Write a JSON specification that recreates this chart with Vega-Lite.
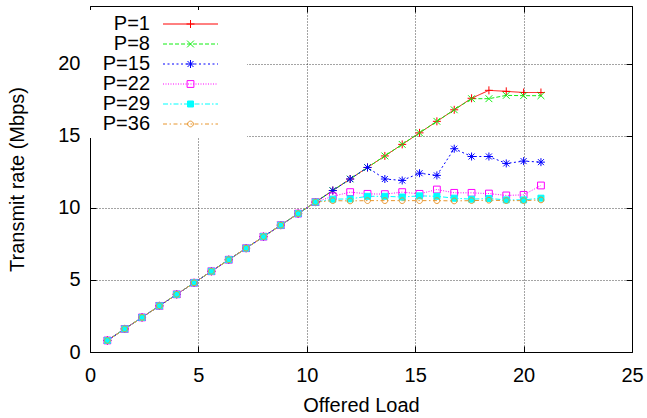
{
  "$schema": "https://vega.github.io/schema/vega-lite/v6.json",
  "width": 542,
  "height": 346,
  "autosize": {"type": "none"},
  "padding": {"left": 90, "top": 6, "right": 15, "bottom": 66},
  "background": "white",
  "config": {
    "font": "Liberation Sans",
    "view": {"stroke": null},
    "axis": {
      "labelFontSize": 20, "labelColor": "#000", "titleFontSize": 20, "titleColor": "#000",
      "titleFontWeight": "normal", "domainColor": "#000", "domainWidth": 1, "tickColor": "#000",
      "tickWidth": 1, "labelFlush": false, "labelOverlap": false, "labelBound": false,
      "gridColor": "#000", "gridDash": [1, 2], "gridWidth": 0.8, "gridOpacity": 0.9
    },
    "legend": {"labelFont": "Liberation Sans", "labelFontSize": 20, "labelColor": "#000"}
  },
  "data": {"values": [
    {"P":"P=1","load":0.8,"rate":0.8},{"P":"P=1","load":1.6,"rate":1.6},{"P":"P=1","load":2.4,"rate":2.4},{"P":"P=1","load":3.2,"rate":3.2},{"P":"P=1","load":4.0,"rate":4.0},{"P":"P=1","load":4.8,"rate":4.8},{"P":"P=1","load":5.6,"rate":5.6},{"P":"P=1","load":6.4,"rate":6.4},{"P":"P=1","load":7.2,"rate":7.2},{"P":"P=1","load":8.0,"rate":8.0},{"P":"P=1","load":8.8,"rate":8.8},{"P":"P=1","load":9.6,"rate":9.6},{"P":"P=1","load":10.4,"rate":10.4},{"P":"P=1","load":11.2,"rate":11.2},{"P":"P=1","load":12.0,"rate":12.0},{"P":"P=1","load":12.8,"rate":12.8},{"P":"P=1","load":13.6,"rate":13.6},{"P":"P=1","load":14.4,"rate":14.4},{"P":"P=1","load":15.2,"rate":15.2},{"P":"P=1","load":16.0,"rate":16.0},{"P":"P=1","load":16.8,"rate":16.8},{"P":"P=1","load":17.6,"rate":17.6},{"P":"P=1","load":18.4,"rate":18.15},{"P":"P=1","load":19.2,"rate":18.08},{"P":"P=1","load":20.0,"rate":18.0},{"P":"P=1","load":20.8,"rate":18.0},
    {"P":"P=8","load":0.8,"rate":0.8},{"P":"P=8","load":1.6,"rate":1.6},{"P":"P=8","load":2.4,"rate":2.4},{"P":"P=8","load":3.2,"rate":3.2},{"P":"P=8","load":4.0,"rate":4.0},{"P":"P=8","load":4.8,"rate":4.8},{"P":"P=8","load":5.6,"rate":5.6},{"P":"P=8","load":6.4,"rate":6.4},{"P":"P=8","load":7.2,"rate":7.2},{"P":"P=8","load":8.0,"rate":8.0},{"P":"P=8","load":8.8,"rate":8.8},{"P":"P=8","load":9.6,"rate":9.6},{"P":"P=8","load":10.4,"rate":10.4},{"P":"P=8","load":11.2,"rate":11.2},{"P":"P=8","load":12.0,"rate":12.0},{"P":"P=8","load":12.8,"rate":12.8},{"P":"P=8","load":13.6,"rate":13.6},{"P":"P=8","load":14.4,"rate":14.4},{"P":"P=8","load":15.2,"rate":15.2},{"P":"P=8","load":16.0,"rate":16.0},{"P":"P=8","load":16.8,"rate":16.8},{"P":"P=8","load":17.6,"rate":17.57},{"P":"P=8","load":18.4,"rate":17.57},{"P":"P=8","load":19.2,"rate":17.8},{"P":"P=8","load":20.0,"rate":17.78},{"P":"P=8","load":20.8,"rate":17.78},
    {"P":"P=15","load":0.8,"rate":0.8},{"P":"P=15","load":1.6,"rate":1.6},{"P":"P=15","load":2.4,"rate":2.4},{"P":"P=15","load":3.2,"rate":3.2},{"P":"P=15","load":4.0,"rate":4.0},{"P":"P=15","load":4.8,"rate":4.8},{"P":"P=15","load":5.6,"rate":5.6},{"P":"P=15","load":6.4,"rate":6.4},{"P":"P=15","load":7.2,"rate":7.2},{"P":"P=15","load":8.0,"rate":8.0},{"P":"P=15","load":8.8,"rate":8.8},{"P":"P=15","load":9.6,"rate":9.6},{"P":"P=15","load":10.4,"rate":10.4},{"P":"P=15","load":11.2,"rate":11.2},{"P":"P=15","load":12.0,"rate":12.0},{"P":"P=15","load":12.8,"rate":12.8},{"P":"P=15","load":13.6,"rate":12.0},{"P":"P=15","load":14.4,"rate":11.9},{"P":"P=15","load":15.2,"rate":12.4},{"P":"P=15","load":16.0,"rate":12.25},{"P":"P=15","load":16.8,"rate":14.1},{"P":"P=15","load":17.6,"rate":13.56},{"P":"P=15","load":18.4,"rate":13.56},{"P":"P=15","load":19.2,"rate":13.08},{"P":"P=15","load":20.0,"rate":13.24},{"P":"P=15","load":20.8,"rate":13.17},
    {"P":"P=22","load":0.8,"rate":0.8},{"P":"P=22","load":1.6,"rate":1.6},{"P":"P=22","load":2.4,"rate":2.4},{"P":"P=22","load":3.2,"rate":3.2},{"P":"P=22","load":4.0,"rate":4.0},{"P":"P=22","load":4.8,"rate":4.8},{"P":"P=22","load":5.6,"rate":5.6},{"P":"P=22","load":6.4,"rate":6.4},{"P":"P=22","load":7.2,"rate":7.2},{"P":"P=22","load":8.0,"rate":8.0},{"P":"P=22","load":8.8,"rate":8.8},{"P":"P=22","load":9.6,"rate":9.6},{"P":"P=22","load":10.4,"rate":10.4},{"P":"P=22","load":11.2,"rate":10.8},{"P":"P=22","load":12.0,"rate":11.09},{"P":"P=22","load":12.8,"rate":10.97},{"P":"P=22","load":13.6,"rate":10.95},{"P":"P=22","load":14.4,"rate":11.09},{"P":"P=22","load":15.2,"rate":10.97},{"P":"P=22","load":16.0,"rate":11.27},{"P":"P=22","load":16.8,"rate":11.04},{"P":"P=22","load":17.6,"rate":11.04},{"P":"P=22","load":18.4,"rate":10.99},{"P":"P=22","load":19.2,"rate":10.86},{"P":"P=22","load":20.0,"rate":10.9},{"P":"P=22","load":20.8,"rate":11.55},
    {"P":"P=29","load":0.8,"rate":0.8},{"P":"P=29","load":1.6,"rate":1.6},{"P":"P=29","load":2.4,"rate":2.4},{"P":"P=29","load":3.2,"rate":3.2},{"P":"P=29","load":4.0,"rate":4.0},{"P":"P=29","load":4.8,"rate":4.8},{"P":"P=29","load":5.6,"rate":5.6},{"P":"P=29","load":6.4,"rate":6.4},{"P":"P=29","load":7.2,"rate":7.2},{"P":"P=29","load":8.0,"rate":8.0},{"P":"P=29","load":8.8,"rate":8.8},{"P":"P=29","load":9.6,"rate":9.6},{"P":"P=29","load":10.4,"rate":10.4},{"P":"P=29","load":11.2,"rate":10.6},{"P":"P=29","load":12.0,"rate":10.62},{"P":"P=29","load":12.8,"rate":10.8},{"P":"P=29","load":13.6,"rate":10.8},{"P":"P=29","load":14.4,"rate":10.75},{"P":"P=29","load":15.2,"rate":10.83},{"P":"P=29","load":16.0,"rate":10.8},{"P":"P=29","load":16.8,"rate":10.67},{"P":"P=29","load":17.6,"rate":10.6},{"P":"P=29","load":18.4,"rate":10.65},{"P":"P=29","load":19.2,"rate":10.55},{"P":"P=29","load":20.0,"rate":10.55},{"P":"P=29","load":20.8,"rate":10.67},
    {"P":"P=36","load":0.8,"rate":0.8},{"P":"P=36","load":1.6,"rate":1.6},{"P":"P=36","load":2.4,"rate":2.4},{"P":"P=36","load":3.2,"rate":3.2},{"P":"P=36","load":4.0,"rate":4.0},{"P":"P=36","load":4.8,"rate":4.8},{"P":"P=36","load":5.6,"rate":5.6},{"P":"P=36","load":6.4,"rate":6.4},{"P":"P=36","load":7.2,"rate":7.2},{"P":"P=36","load":8.0,"rate":8.0},{"P":"P=36","load":8.8,"rate":8.8},{"P":"P=36","load":9.6,"rate":9.6},{"P":"P=36","load":10.4,"rate":10.4},{"P":"P=36","load":11.2,"rate":10.5},{"P":"P=36","load":12.0,"rate":10.48},{"P":"P=36","load":12.8,"rate":10.5},{"P":"P=36","load":13.6,"rate":10.5},{"P":"P=36","load":14.4,"rate":10.5},{"P":"P=36","load":15.2,"rate":10.5},{"P":"P=36","load":16.0,"rate":10.5},{"P":"P=36","load":16.8,"rate":10.48},{"P":"P=36","load":17.6,"rate":10.5},{"P":"P=36","load":18.4,"rate":10.53},{"P":"P=36","load":19.2,"rate":10.5},{"P":"P=36","load":20.0,"rate":10.5},{"P":"P=36","load":20.8,"rate":10.55}
  ]},
  "layer": [
    {
      "mark": {"type": "line", "strokeWidth": 1},
      "encoding": {
        "x": {"field": "load", "type": "quantitative", "scale": {"domain": [0, 25], "nice": false},
          "axis": {"orient": "bottom", "values": [0, 5, 10, 15, 20, 25], "grid": true, "tickSize": -6,
            "labelPadding": 19, "title": "Offered Load", "titlePadding": 10}},
        "y": {"field": "rate", "type": "quantitative", "scale": {"domain": [0, 24], "nice": false},
          "axis": {"orient": "left", "values": [0, 5, 10, 15, 20], "grid": true, "tickSize": -6,
            "labelPadding": 16, "title": "Transmit rate (Mbps)", "titlePadding": 30}},
        "color": {"field": "P", "type": "nominal",
          "scale": {"domain": ["P=1", "P=8", "P=15", "P=22", "P=29", "P=36"],
            "range": ["#ff0000", "#11ee11", "#0000ff", "#ff00ff", "#00ffff", "#e8962e"]},
          "legend": {"title": null, "orient": "none", "legendX": 0, "legendY": 4, "symbolType": "stroke",
            "symbolSize": 3025, "symbolStrokeWidth": 1, "labelOpacity": 0, "labelLimit": 8,
            "symbolOffset": 68.5, "clipHeight": 20, "rowPadding": -0.6, "padding": 4, "fillColor": "white", "zindex": 1}},
        "strokeDash": {"field": "P", "type": "nominal",
          "scale": {"domain": ["P=1", "P=8", "P=15", "P=22", "P=29", "P=36"],
            "range": [[1, 0], [4, 2], [2, 2.5], [1, 1.5], [5, 2, 1.5, 2], [4, 2.5, 1.5, 2.5]]},
          "legend": {"title": null, "orient": "none", "legendX": 0, "legendY": 4, "symbolType": "stroke",
            "symbolSize": 3025, "symbolStrokeWidth": 1, "labelOpacity": 0, "labelLimit": 8,
            "symbolOffset": 68.5, "clipHeight": 20, "rowPadding": -0.6, "padding": 4, "fillColor": "white", "zindex": 1}}
      }
    },
    {
      "mark": {"type": "point", "filled": false, "strokeWidth": 1, "opacity": 1, "size": 64},
      "encoding": {
        "x": {"field": "load", "type": "quantitative",
          "axis": {"orient": "top", "values": [0, 5, 10, 15, 20, 25], "grid": false, "tickSize": -6, "labels": false, "title": null}},
        "y": {"field": "rate", "type": "quantitative",
          "axis": {"orient": "right", "values": [0, 5, 10, 15, 20], "grid": false, "tickSize": -6, "labels": false, "title": null}},
        "stroke": {"field": "P", "type": "nominal",
          "scale": {"domain": ["P=36", "P=29", "P=22", "P=15", "P=8", "P=1"],
            "range": ["#e8962e", "#00ffff", "#ff00ff", "#0000ff", "#11ee11", "#ff0000"]},
          "legend": {"title": null, "orient": "none", "legendX": 0, "legendY": 4, "symbolStrokeWidth": 1,
            "values": ["P=1", "P=8", "P=15", "P=22", "P=29", "P=36"],
            "symbolSize": 64, "labelAlign": "right", "labelOffset": -50.5, "symbolOffset": 86.5, "rowPadding": -0.6, "padding": 4, "zindex": 2}},
        "shape": {"field": "P", "type": "nominal",
          "scale": {"domain": ["P=36", "P=29", "P=22", "P=15", "P=8", "P=1"],
            "range": [
            "M0.72,0A0.72,0.72,0,1,1,-0.72,0A0.72,0.72,0,1,1,0.72,0Z",
            "M-0.75,-0.75H0.75V0.75H-0.75Z",
            "M-0.85,-0.85H0.85V0.85H-0.85Z",
            "M-1,0H1M0,-1V1M-0.75,-0.75L0.75,0.75M-0.75,0.75L0.75,-0.75",
            "M-0.85,-0.85L0.85,0.85M-0.85,0.85L0.85,-0.85",
            "M-1,0H1M0,-1V1"]},
          "legend": {"title": null, "orient": "none", "legendX": 0, "legendY": 4, "symbolStrokeWidth": 1,
            "values": ["P=1", "P=8", "P=15", "P=22", "P=29", "P=36"],
            "symbolSize": 64, "labelAlign": "right", "labelOffset": -50.5, "symbolOffset": 86.5, "rowPadding": -0.6, "padding": 4, "zindex": 2}},
        "fill": {"field": "P", "type": "nominal",
          "scale": {"domain": ["P=36", "P=29", "P=22", "P=15", "P=8", "P=1"],
            "range": ["transparent", "#00ffff", "transparent", "transparent", "transparent", "transparent"]},
          "legend": {"title": null, "orient": "none", "legendX": 0, "legendY": 4, "symbolStrokeWidth": 1,
            "values": ["P=1", "P=8", "P=15", "P=22", "P=29", "P=36"],
            "symbolSize": 64, "labelAlign": "right", "labelOffset": -50.5, "symbolOffset": 86.5, "rowPadding": -0.6, "padding": 4, "zindex": 2}}
      }
    }
  ],
  "resolve": {"axis": {"x": "independent", "y": "independent"}}
}
